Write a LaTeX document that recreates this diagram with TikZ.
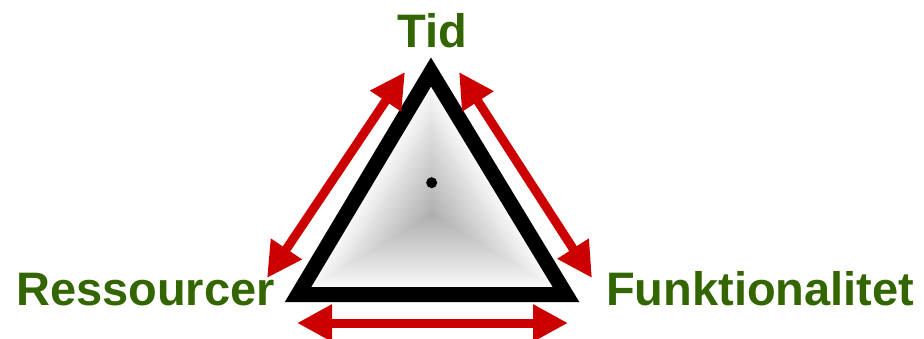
\documentclass[tikz,border=0pt]{standalone}
\usepackage{fontspec}
\setmainfont{Liberation Sans}
\usetikzlibrary{arrows.meta,calc}
\definecolor{labelgreen}{RGB}{51,102,0}
\definecolor{arrowred}{RGB}{204,0,0}
\tikzset{
  corner/.style={font=\fontsize{47}{50}\selectfont\bfseries, text=labelgreen, inner sep=0pt},
  tradeoff/.style={arrowred, line width=9pt, {Triangle[length=35pt,width=35pt]}-{Triangle[length=35pt,width=35pt]}}
}
\begin{document}
\begin{tikzpicture}[x=1pt, y=-1pt]
  \useasboundingbox (0,0) rectangle (924,338);
  \coordinate (top) at (431,72);
  \coordinate (bl) at (298,294.5);
  \coordinate (br) at (566,294.5);
  \coordinate (mid) at (432,215);
  % shaded body
  \foreach \k in {0,...,40} {
    \pgfmathsetmacro{\f}{1-\k/40}
    \pgfmathsetmacro{\g}{32*\k/40}
    \fill[black!\g] ($(mid)!\f!(top)$) -- ($(mid)!\f!(bl)$) -- ($(mid)!\f!(br)$) -- cycle;
  }
  \draw[line width=15pt, line join=miter] (top) -- (bl) -- (br) -- cycle;
  \fill (431.7,182.7) circle (5.5);
  % labels
  \node[corner, anchor=base] (tid) at (432,47) {Tid};
  \node[corner, anchor=base west] (res) at (16,305) {Ressourcer};
  \node[corner, anchor=base west] (fun) at (606,305) {Funktionalitet};
  % arrows
  \coordinate (a1) at (267,278);
  \coordinate (a2) at (405,72);
  \coordinate (b1) at (459,72);
  \coordinate (b2) at (592,278);
  \coordinate (c1) at (297,323);
  \coordinate (c2) at (568,323);
  \draw[tradeoff] (a1) -- (a2);
  \draw[tradeoff] (b1) -- (b2);
  \draw[tradeoff] (c1) -- (c2);
\end{tikzpicture}
\end{document}
